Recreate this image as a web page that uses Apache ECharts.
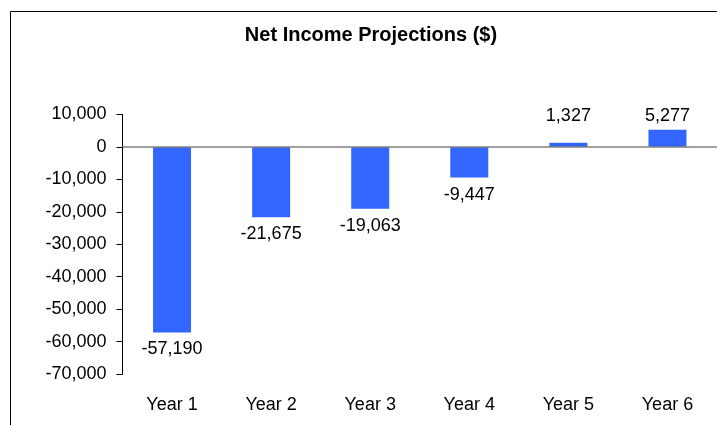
<!DOCTYPE html>
<html>
<head>
<meta charset="utf-8">
<script src="https://cdn.jsdelivr.net/npm/echarts@6/dist/echarts.min.js"></script>
<style>
html,body{margin:0;padding:0;background:#fff;}
#chart{width:717px;height:425px;}
</style>
</head>
<body>
<div id="chart"></div>
<script>
const categories = ['Year 1', 'Year 2', 'Year 3', 'Year 4', 'Year 5', 'Year 6'];
const netIncome = [-57190, -21675, -19063, -9447, 1327, 5277];
const yMin = -70000, yMax = 10000, yStep = 10000;

const fmt = v => Number(v).toLocaleString('en-US');
const chart = echarts.init(document.getElementById('chart'), null, {renderer: 'canvas'});
const font = '"Liberation Sans", Arial, sans-serif';

function labelFor(v, i) {
  if (v < 0) return {position: 'bottom', distance: 8};
  // small positive bars: labels aligned with the tallest positive label
  return {position: 'top', distance: v < 3000 ? 18 : 5};
}

chart.setOption({
  animation: false,
  backgroundColor: '#fff',
  textStyle: {fontFamily: font},
  title: {
    text: 'Net Income Projections ($)',
    left: 366, top: 20, textAlign: 'center',
    textStyle: {fontFamily: font, fontSize: 20, fontWeight: 'bold', color: '#000'}
  },
  graphic: [{
    type: 'rect', left: 8, top: 9, shape: {x: 0, y: 0, width: 720, height: 430},
    style: {fill: 'none', stroke: '#000', lineWidth: 1}, silent: true
  }],
  grid: {left: 122.5, right: -5.5, top: 114.5, bottom: 51},
  xAxis: {
    type: 'category', data: categories,
    axisLine: {show: false, onZero: false}, axisTick: {show: false},
    axisLabel: {color: '#000', fontSize: 18, fontFamily: font, margin: 22}
  },
  yAxis: {
    type: 'value', min: yMin, max: yMax, interval: yStep,
    axisLine: {show: true, lineStyle: {color: '#000', width: 1}},
    axisTick: {show: true, length: 6, lineStyle: {color: '#000'}},
    splitLine: {show: false},
    axisLabel: {color: '#000', fontSize: 18, fontFamily: font, margin: 16, formatter: v => fmt(v)}
  },
  series: [{
    type: 'bar', barWidth: 38,
    itemStyle: {color: '#3366FF'},
    data: netIncome.map((v, i) => ({value: v, label: labelFor(v, i)})),
    label: {show: true, color: '#000', fontSize: 18, fontFamily: font, formatter: p => fmt(p.value)},
    markLine: {
      silent: true, symbol: 'none', label: {show: false},
      lineStyle: {color: '#808080', width: 1.5, type: 'solid'},
      data: [{yAxis: 0}]
    }
  }]
});
</script>
</body>
</html>
